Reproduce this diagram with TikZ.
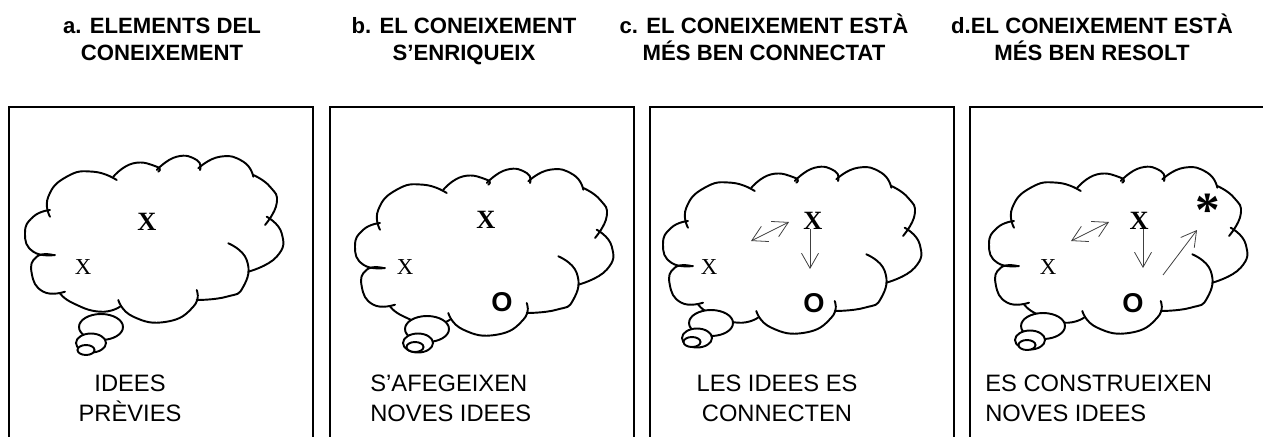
\documentclass[tikz,border=0pt]{standalone}
\usepackage{fontspec}
\setmainfont{Liberation Serif}
\setsansfont{Liberation Sans}
\usetikzlibrary{arrows.meta,positioning}

% one thought cloud, drawn lobe by lobe from its top left corner
\tikzset{
  thought/.pic={
    \draw[cloudline] plot[smooth,tension=0.9] coordinates {(25,61.7) (23.3,41.7) (41.7,21.7) (68.3,16.7) (91.7,25)};
    \draw[cloudline] plot[smooth,tension=0.9] coordinates {(88.3,21.7) (108.3,8.3) (131.7,11.7) (133.3,16.7)};
    \draw[cloudline] plot[smooth,tension=0.9] coordinates {(131.7,15) (151.7,1.7) (171.7,5) (175,15)};
    \draw[cloudline] plot[smooth,tension=0.9] coordinates {(173.3,13.3) (195,1.7) (218.3,6.7) (228.3,21.7)};
    \draw[cloudline] plot[smooth,tension=0.9] coordinates {(228.3,20) (245,31.7) (251.7,48.3) (240,70)};
    \draw[cloudline] plot[smooth,tension=0.9] coordinates {(241.7,61.7) (256.7,78.3) (251.7,101.7) (223.3,116.7)};
    \draw[cloudline] plot[smooth,tension=0.9] coordinates {(203.3,88.3) (221.7,105) (218.3,131.7) (201.7,141.7) (171.7,145)};
    \draw[cloudline] plot[smooth,tension=0.9] coordinates {(171.7,135) (168.3,151.7) (141.7,166.7) (108.3,161.7) (93.3,145)};
    \draw[cloudline] plot[smooth,tension=0.9] coordinates {(95,151.7) (75,156.7) (48.3,148.3) (35,138.3)};
    \draw[cloudline] plot[smooth,tension=0.9] coordinates {(40,136.7) (18.3,136.7) (6.7,118.3) (11.7,101.7) (28.3,100)};
    \draw[cloudline] plot[smooth,tension=0.9] coordinates {(30,100) (8.3,96.7) (0,78.3) (8.3,61.7) (25,55)};
  }
}

\begin{document}
\begin{tikzpicture}[x=0.02cm, y=-0.02cm,
  panel/.style={draw, line width=1.6pt},
  ttl/.style={font=\sffamily\bfseries\fontsize{12.6}{15.3}\selectfont, align=center, anchor=base, inner sep=0pt},
  lbl/.style={font=\sffamily\fontsize{13.5}{17}\selectfont, align=center, anchor=base, inner sep=0pt},
  smallx/.style={font=\fontsize{13}{13}\selectfont, inner sep=0pt},
  bigx/.style={font=\bfseries\fontsize{15}{15}\selectfont, inner sep=0pt},
  bigo/.style={font=\sffamily\bfseries\fontsize{15.5}{15.5}\selectfont, inner sep=0pt},
  link/.style={line width=0.45pt, black!75, -{Straight Barb[length=3mm,width=3.4mm]}},
  twoway/.style={line width=0.45pt, black!75, {Straight Barb[length=3mm,width=3.4mm]}-{Straight Barb[length=3mm,width=3.4mm]}},
  bubble/.style={draw, fill=white, line width=1.1pt},
  cloudline/.style={line width=1.1pt, line cap=round}
]
\useasboundingbox (0,0) rectangle (1263,436);

% the four panels
\foreach \px in {9,330,650,970}
  \draw[panel] (\px,107) rectangle ++(304,340);

% headings (anchored on the second line)
\node[ttl] (ta) at (162,60) {a. ELEMENTS DEL\\CONEIXEMENT};
\node[ttl] (tb) at (464,60) {b. EL CONEIXEMENT\\S'ENRIQUEIX};
\node[ttl] (tc) at (764,60) {c. EL CONEIXEMENT ESTÀ\\MÉS BEN CONNECTAT};
\node[ttl] (td) at (1092,60) {d.EL CONEIXEMENT ESTÀ\\MÉS BEN RESOLT};

% clouds
\pic at (25,155) {thought};
\pic at (355,168) {thought};
\pic at (663,166) {thought};
\pic at (989,166) {thought};

% little bubbles under each cloud
\foreach \bx/\by/\mx/\my/\sx/\sy in {101/327/91/343/86/350, 427/329/418/343/415/347,
    711/323/697/338/692/342, 1043/326/1030/340/1027/345} {
  \draw[bubble] (\bx,\by) ellipse [x radius=0.44cm, y radius=0.26cm];
  \draw[bubble] (\mx,\my) ellipse [x radius=0.30cm, y radius=0.19cm];
  \draw[bubble] (\sx,\sy) ellipse [x radius=0.17cm, y radius=0.10cm];
}

% ideas inside the clouds
\node[smallx] (xa1) at (83,267) {X};
\node[bigx] (xa2) at (147,222) {X};

\node[smallx] (xb1) at (405,267) {X};
\node[bigx] (xb2) at (486,220) {X};
\node[bigo] (ob) at (502,302) {O};

\node[smallx] (xc1) at (709,267) {X};
\node[bigx] (xc2) at (813,221) {X};
\node[bigo] (oc) at (814,303) {O};

\node[smallx] (xd1) at (1048,267) {X};
\node[bigx] (xd2) at (1139,221) {X};
\node[bigo] (od) at (1133,303) {O};
\node[font=\bfseries\fontsize{28}{28}\selectfont, inner sep=0pt, anchor=base] (nd) at (1208,226) {*};

% links between ideas
\coordinate (c1) at (751,241);
\coordinate (c2) at (789,222);
\coordinate (c3) at (810,229);
\coordinate (c4) at (810,269);
\draw[twoway] (c1) -- (c2);
\draw[link] (c3) -- (c4);

\coordinate (d1) at (1071,241);
\coordinate (d2) at (1109,222);
\coordinate (d3) at (1143,229);
\coordinate (d4) at (1143,268);
\coordinate (d5) at (1163,275);
\coordinate (d6) at (1197,230);
\draw[twoway] (d1) -- (d2);
\draw[link] (d3) -- (d4);
\draw[link] (d5) -- (d6);

% captions (anchored on the second line)
\node[lbl] (la) at (130,421) {IDEES\\PRÈVIES};
\node[lbl, align=left, anchor=base west] (lb) at (370,421) {S'AFEGEIXEN\\NOVES IDEES};
\node[lbl] (lc) at (777,421) {LES IDEES ES\\CONNECTEN};
\node[lbl, align=left, anchor=base west] (ld) at (985,421) {ES CONSTRUEIXEN\\NOVES IDEES};
\end{tikzpicture}
\end{document}
